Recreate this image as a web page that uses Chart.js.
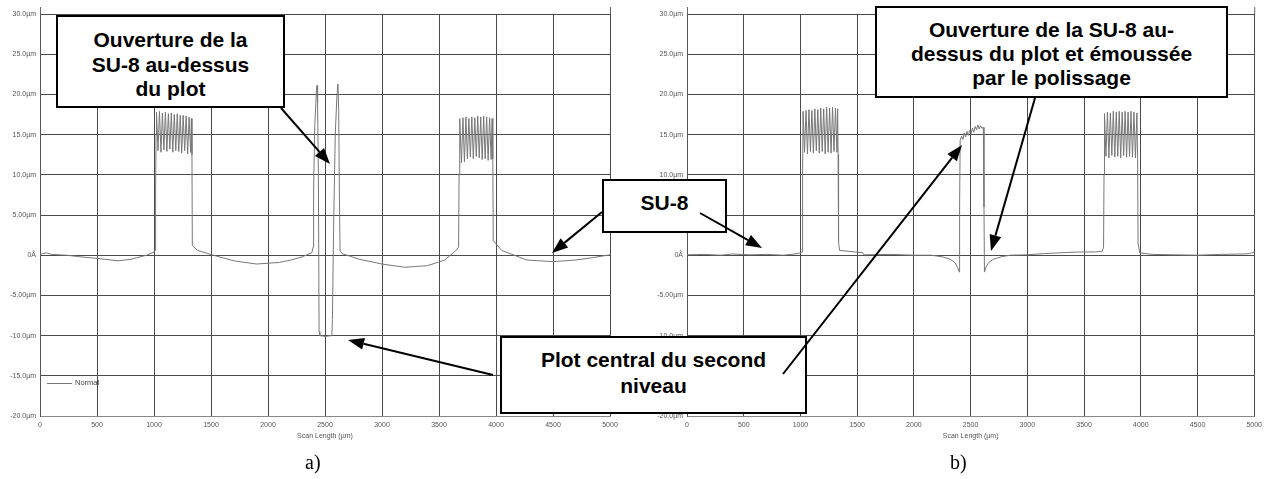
<!DOCTYPE html>
<html>
<head>
<meta charset="utf-8">
<script src="https://cdn.jsdelivr.net/npm/chart.js@4/dist/chart.umd.min.js"></script>
<style>
  body { margin: 0; background: #fff; }
  #page { position: relative; width: 1267px; height: 479px; overflow: hidden; background: #fff; }
  canvas { position: absolute; top: 0; }
  .box {
    position: absolute; box-sizing: border-box; border: 2px solid #000; background: #fff;
    font: bold 21px "Liberation Sans", Arial, sans-serif; color: #000; text-align: center;
  }
  .caption { position: absolute; font: 20px "Liberation Serif", "Times New Roman", serif; line-height: 20px; }
  #legendA { position: absolute; left: 47px; top: 378px; font: 7.5px "Liberation Sans", Arial, sans-serif; color: #444; line-height: 10px; }
  #legendA span { display: inline-block; width: 25px; border-top: 1px solid #777; vertical-align: middle; margin-right: 3px; }
  svg { position: absolute; left: 0; top: 0; }
</style>
</head>
<body>
<div id="page">
  <canvas id="chartA" width="640" height="445" style="left:0;width:640px;height:445px"></canvas>
  <canvas id="chartB" width="620" height="445" style="left:647px;width:620px;height:445px"></canvas>
  <div id="legendA"><span></span>Normal</div>

  <div class="box" style="left:56px;top:15px;width:229px;height:93px;padding-top:11px;line-height:24.5px">Ouverture de la<br>SU-8 au-dessus<br>du plot</div>
  <div class="box" style="left:602px;top:179px;width:125px;height:54px;padding-top:10px;line-height:24px">SU-8</div>
  <div class="box" style="left:875px;top:6px;width:353px;height:92px;padding-top:10px;line-height:24px">Ouverture de la SU-8 au-<br>dessus du plot et émoussée<br>par le polissage</div>
  <div class="box" style="left:500px;top:336px;width:307px;height:78px;padding-top:9px;line-height:26px">Plot central du second<br>niveau</div>

  <svg id="arrows" width="1267" height="479"></svg>

  <div class="caption" style="left:305px;top:452px">a)</div>
  <div class="caption" style="left:950px;top:452px">b)</div>
</div>
<script>
// profile a) : scan position (µm) and height (µm)
const scanA = [
  0, 60, 100, 233, 350, 500, 685, 800, 935, 1000, 1010,
  1014, 1018, 1022, 1035, 1048, 1061, 1074, 1087, 1100, 1113, 1126, 1139, 1152, 1165,
  1178, 1191, 1204, 1217, 1230, 1243, 1256, 1269, 1282, 1295, 1308, 1321, 1328, 1333, 1336,
  1380, 1520, 1700, 1900, 2100, 2200, 2300, 2385,
  2395, 2400, 2410, 2425, 2430, 2435, 2442, 2448, 2455, 2500, 2560,
  2565, 2575, 2590, 2605, 2614, 2620, 2626, 2632,
  2650, 2800, 3000, 3200, 3400, 3550, 3650, 3672,
  3676, 3680, 3684, 3697, 3710, 3723, 3736, 3749, 3762, 3775, 3788, 3801, 3814, 3827,
  3840, 3853, 3866, 3879, 3892, 3905, 3918, 3931, 3944, 3957, 3966, 3972, 3976,
  4050, 4270, 4500, 4700, 4850, 4980, 5000
];
const heightA = [
  0.1, 0.3, 0.1, 0.0, -0.2, -0.4, -0.7, -0.5, 0.0, 0.4, 0.6,
  8, 15, 17.8, 13.0, 17.9, 12.8, 17.7, 13.1, 17.8, 12.9, 17.6, 13.2, 17.7, 12.8,
  17.5, 13.0, 17.6, 12.9, 17.4, 12.7, 17.4, 13.0, 17.3, 12.6, 17.2, 12.8, 17.0, 12.5, 1.2,
  0.6, 0.0, -0.7, -1.1, -0.9, -0.6, -0.2, 0.3,
  1.0, 8, 16, 20.5, 21.1, 19, 10, -9.5, -10.0, -10.1, -10.0,
  -8, 3, 15, 20, 21.3, 18, 8, 0.6,
  0.2, -0.5, -1.1, -1.5, -1.3, -0.6, 0.6, 1.0,
  10, 16.5, 17.0, 11.5, 17.1, 11.6, 17.2, 12.0, 17.0, 12.2, 17.2, 12.0, 17.1, 12.3,
  17.3, 12.1, 17.2, 11.9, 17.3, 12.0, 17.2, 11.8, 17.1, 11.9, 17.0, 12.0, 1.8,
  0.6, -0.6, -0.8, -0.6, -0.3, 0.0, 0.05
];

// profile b) : after polishing
const scanB = [
  0, 150, 300, 400, 550, 700, 850, 980, 1015,
  1019, 1023, 1036, 1049, 1062, 1075, 1088, 1101, 1114, 1127, 1140, 1153, 1166, 1179,
  1192, 1205, 1218, 1231, 1244, 1257, 1270, 1283, 1296, 1309, 1322, 1328, 1332, 1336,
  1345, 1550, 1560, 1800, 2000, 2150, 2250, 2320, 2360, 2385, 2400,
  2403, 2408, 2420, 2432, 2444, 2456, 2468, 2480, 2492, 2504, 2516, 2528, 2540, 2552,
  2564, 2576, 2588, 2600, 2612, 2618, 2622,
  2635, 2660, 2700, 2770, 2850, 3000, 3150, 3300, 3450, 3600, 3660, 3672,
  3676, 3680, 3693, 3706, 3719, 3732, 3745, 3758, 3771, 3784, 3797, 3810, 3823, 3836,
  3849, 3862, 3875, 3888, 3901, 3914, 3927, 3940, 3953, 3966, 3972, 3976,
  3990, 4100, 4300, 4500, 4700, 4900, 4960, 5000
];
const heightB = [
  0.05, 0.1, 0.0, 0.15, 0.05, 0.1, 0.0, 0.2, 0.4,
  10, 17.9, 12.8, 18.0, 12.6, 18.1, 12.9, 18.0, 12.7, 18.2, 13.0, 18.1, 12.7, 18.3,
  12.9, 18.2, 12.6, 18.4, 12.8, 18.3, 12.7, 18.4, 12.9, 18.3, 12.8, 18.2, 12.5, 1.6,
  0.6, 0.3, 0.05, 0.1, 0.0, 0.0, -0.2, -0.5, -0.9, -1.5, -2.1,
  6, 14.3, 14.8, 14.4, 15.2, 14.7, 15.4, 14.9, 15.5, 15.1, 15.8, 15.3, 16.0, 15.6,
  16.2, 15.7, 16.1, 15.8, 15.9, 6, -2.1,
  -1.5, -0.9, -0.5, -0.2, 0.0, 0.05, 0.2, 0.3, 0.4, 0.4, 0.5, 1.0,
  10, 17.6, 12.3, 17.8, 12.1, 17.7, 12.4, 17.9, 12.2, 17.8, 12.3, 17.9, 12.1, 17.8,
  12.4, 17.9, 12.2, 17.8, 12.3, 17.9, 12.2, 17.8, 12.1, 17.7, 12.0, 1.5,
  0.3, 0.1, 0.05, 0.0, 0.1, 0.15, 0.2, 0.4
];

const yTickValues = [30, 25, 20, 15, 10, 5, 0, -5, -10, -15, -20];
const yTickLabels = ["30.0µm", "25.0µm", "20.0µm", "15.0µm", "10.0µm", "5.00µm", "0Å",
  "-5.00µm", "-10.0µm", "-15.0µm", "-20.0µm"];

const tickFont = { family: "Liberation Sans", size: 7 };

// little stubs of the frame above the top gridline, like the profilometer export
const frameStubs = {
  id: "frameStubs",
  afterDraw(chart) {
    const { ctx, chartArea } = chart;
    ctx.save();
    ctx.strokeStyle = "#666";
    ctx.lineWidth = 1;
    ctx.beginPath();
    ctx.moveTo(chartArea.left + 0.5, chartArea.top - 7);
    ctx.lineTo(chartArea.left + 0.5, chartArea.top);
    ctx.moveTo(chartArea.right + 0.5, chartArea.top - 7);
    ctx.lineTo(chartArea.right + 0.5, chartArea.top);
    ctx.stroke();
    ctx.restore();
  },
};

function makeProfile(canvasId, xs, ys, rightPad) {
  const points = xs.map((x, i) => ({ x, y: ys[i] }));
  const config = {
    type: "line",
    data: {
      datasets: [
        {
          label: "Normal",
          data: points,
          borderColor: "#777",
          borderWidth: 1,
          pointRadius: 0,
          tension: 0,
          fill: false,
        },
      ],
    },
    options: {
      responsive: false,
      animation: false,
      layout: { padding: { left: 0, right: rightPad, top: 14, bottom: 0 } },
      plugins: { legend: { display: false }, tooltip: { enabled: false } },
      scales: {
        x: {
          type: "linear",
          min: 0,
          max: 5000,
          afterFit: (s) => { s.height = 29; },
          ticks: {
            stepSize: 500,
            font: tickFont,
            color: "#555",
            padding: 5,
            maxRotation: 0,
            callback: (value) => String(value),
          },
          grid: { color: "#4a4a4a", lineWidth: 1, drawTicks: false },
          border: { color: "#888" },
          title: {
            display: true,
            text: "Scan Length (µm)",
            font: tickFont,
            color: "#555",
            padding: { top: 0, bottom: 4.5 },
          },
        },
        y: {
          type: "linear",
          min: -20,
          max: 30,
          afterFit: (s) => { s.width = 40; },
          ticks: {
            stepSize: 5,
            font: tickFont,
            color: "#555",
            padding: 4,
            callback: (value) => yTickLabels[yTickValues.indexOf(value)],
          },
          grid: { color: "#4a4a4a", lineWidth: 1, drawTicks: false },
          border: { color: "#555" },
        },
      },
    },
    plugins: [frameStubs],
  };
  const ctx = document.getElementById(canvasId).getContext("2d");
  return new Chart(ctx, config);
}

makeProfile("chartA", scanA, heightA, 30);
makeProfile("chartB", scanB, heightB, 12);

// callout arrows (page pixels)
function addArrow(svg, x1, y1, x2, y2) {
  const ns = "http://www.w3.org/2000/svg";
  const len = 16, half = 6;
  const dx = x2 - x1, dy = y2 - y1;
  const d = Math.hypot(dx, dy);
  const ux = dx / d, uy = dy / d;
  const bx = x2 - ux * len, by = y2 - uy * len;
  const line = document.createElementNS(ns, "line");
  line.setAttribute("x1", x1);
  line.setAttribute("y1", y1);
  line.setAttribute("x2", bx);
  line.setAttribute("y2", by);
  line.setAttribute("stroke", "#000");
  line.setAttribute("stroke-width", 2);
  svg.appendChild(line);
  const head = document.createElementNS(ns, "polygon");
  head.setAttribute("points", `${x2},${y2} ${bx - uy * half},${by + ux * half} ${bx + uy * half},${by - ux * half}`);
  head.setAttribute("fill", "#000");
  svg.appendChild(head);
}

const svg = document.getElementById("arrows");
addArrow(svg, 281, 108, 330, 164);
addArrow(svg, 602, 212, 552, 253);
addArrow(svg, 700, 213, 762, 248);
addArrow(svg, 1035, 98, 991, 251);
addArrow(svg, 493, 375, 348, 340);
addArrow(svg, 783, 374, 962, 145);
</script>
</body>
</html>
